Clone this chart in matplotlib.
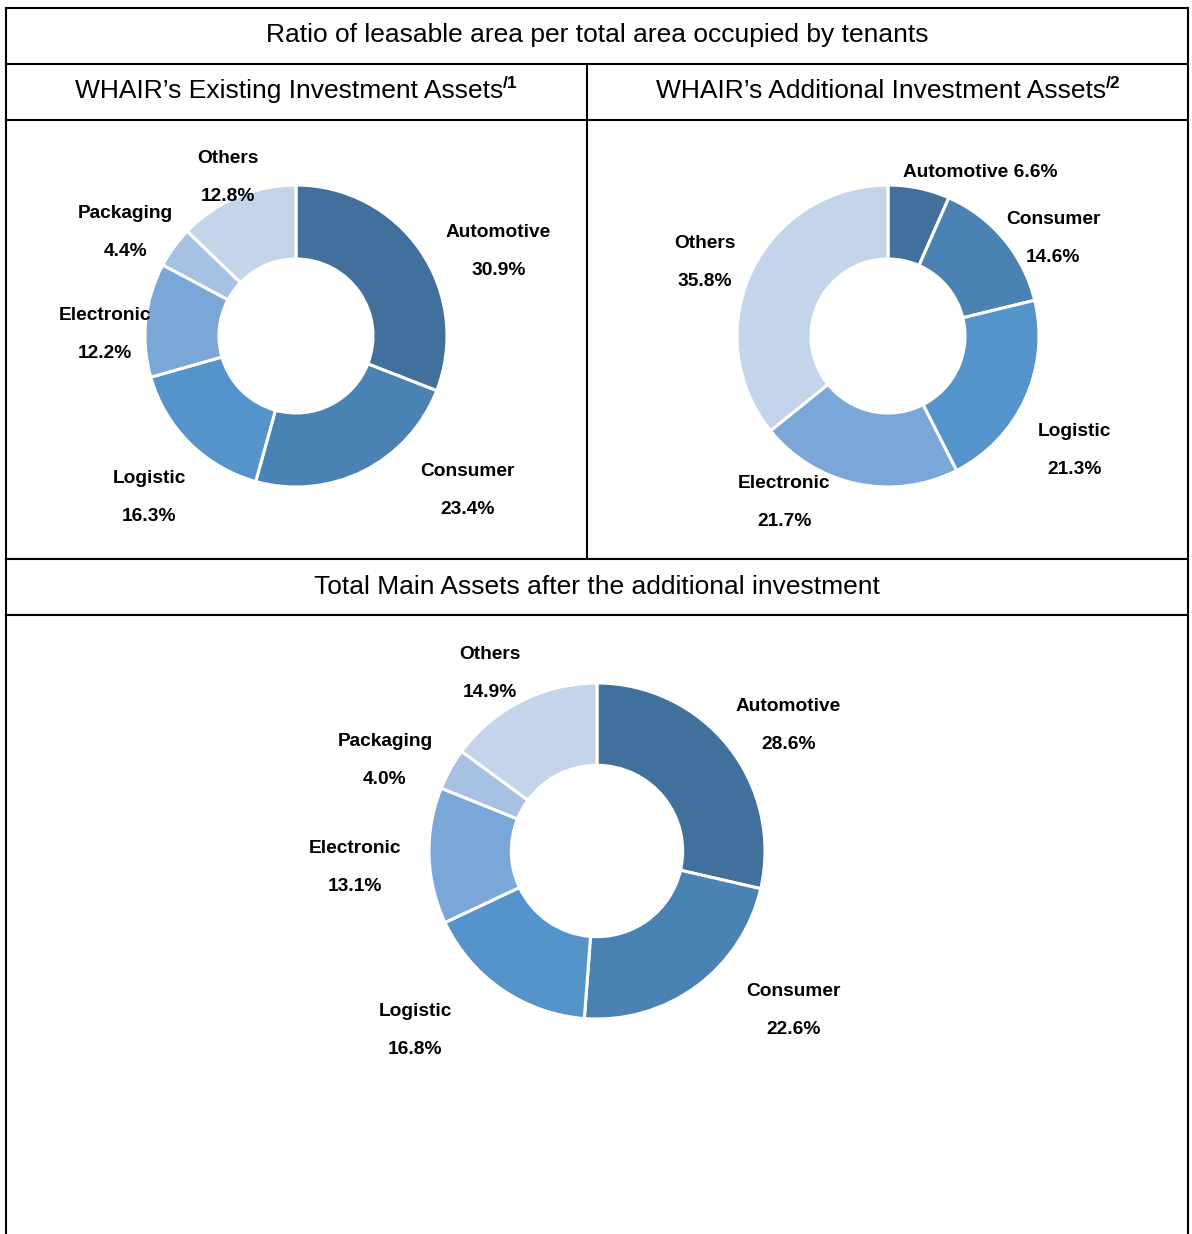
import numpy as np
import matplotlib.pyplot as plt

# Данные
cats1 = ['Automotive', 'Consumer', 'Logistic', 'Electronic', 'Packaging', 'Others']
vals1 = [30.9, 23.4, 16.3, 12.2, 4.4, 12.8]

cats2 = ['Automotive', 'Consumer', 'Logistic', 'Electronic', 'Others']
vals2 = [6.6, 14.6, 21.3, 21.7, 35.8]

cats3 = ['Automotive', 'Consumer', 'Logistic', 'Electronic', 'Packaging', 'Others']
vals3 = [28.6, 22.6, 16.8, 13.1, 4.0, 14.9]

colors = {'Automotive': '#41709c', 'Consumer': '#4a82b4', 'Logistic': '#5593cb',
          'Electronic': '#7ba7d8', 'Packaging': '#a7c1e4', 'Others': '#c4d5eb'}

W, H = 1192, 1234
plt.rcParams['font.family'] = ['Liberation Sans', 'DejaVu Sans']

fig = plt.figure(figsize=(W / 100, H / 100), dpi=100)
ax = fig.add_axes([0, 0, 1, 1])

def Y(y):
    return H - y

# Сетка таблицы
lw = 1.5
for y in [8, 64, 120, 559, 615]:
    ax.plot([6, 1188], [Y(y), Y(y)], color='black', lw=lw, solid_capstyle='projecting')
ax.plot([6, 6], [Y(8), Y(H + 5)], color='black', lw=lw)
ax.plot([1188, 1188], [Y(8), Y(H + 5)], color='black', lw=lw)
ax.plot([587, 587], [Y(64), Y(559)], color='black', lw=lw)

# Заголовки
tfs = 19
ax.text(597, Y(35), 'Ratio of leasable area per total area occupied by tenants',
        ha='center', va='center', fontsize=tfs)
ax.text(597, Y(587), 'Total Main Assets after the additional investment',
        ha='center', va='center', fontsize=tfs)

fig.canvas.draw()
renderer = fig.canvas.get_renderer()

def title_sup(xc, y, text, sup):
    t = ax.text(0, Y(y), text, ha='left', va='center', fontsize=tfs)
    s = ax.text(0, Y(y - 8), sup, ha='left', va='center', fontsize=12.5,
                fontweight='bold')
    wt = t.get_window_extent(renderer).width
    ws = s.get_window_extent(renderer).width
    x0 = xc - (wt + ws) / 2
    t.set_x(x0)
    s.set_x(x0 + wt)

title_sup(296, 91, 'WHAIR\u2019s Existing Investment Assets', '/1')
title_sup(888, 91, 'WHAIR\u2019s Additional Investment Assets', '/2')

# Смещения подписей относительно радиальной позиции (в пикселях)
nudge1 = [(34, 31), (80, -28), (-3, 17), (12, 20), (-6, 16), (12, 29)]
nudge2 = [(50, 36), (9, 33), (1, 29), (-61, -33), (1, 14)]
nudge3 = [(14, 16), (62, -23), (-53, -7), (-15, 10), (-14, 20), (-5, 25)]

lfs = 13.8

def donut(cx, cy, R, cats, vals, nudges, single_line=()):
    ax.pie(vals, colors=[colors[c] for c in cats], startangle=90, counterclock=False,
           center=(cx, Y(cy)), radius=R,
           wedgeprops=dict(width=0.49 * R, edgecolor='white', linewidth=2.2))
    total = sum(vals)
    cum = 0
    for c, v, (dx, dy) in zip(cats, vals, nudges):
        mid = 90 - (cum + v / 2) / total * 360
        cum += v
        a = np.deg2rad(mid)
        lx = cx + 1.35 * R * np.cos(a) + dx
        ly = cy - 1.35 * R * np.sin(a) + dy
        if c in single_line:
            ax.text(lx, Y(ly), f'{c} {v:.1f}%', ha='center', va='center',
                    fontsize=lfs, fontweight='bold')
        else:
            ax.text(lx, Y(ly - 19), c, ha='center', va='center',
                    fontsize=lfs, fontweight='bold')
            ax.text(lx, Y(ly + 19), f'{v:.1f}%', ha='center', va='center',
                    fontsize=lfs, fontweight='bold')

donut(296, 336, 151, cats1, vals1, nudge1)
donut(888, 336, 151, cats2, vals2, nudge2, single_line=('Automotive',))
donut(597, 851, 168, cats3, vals3, nudge3)

ax.set_xlim(0, W)
ax.set_ylim(0, H)
ax.set_aspect('auto')
ax.axis('off')

fig.savefig('out.png', dpi=100)
